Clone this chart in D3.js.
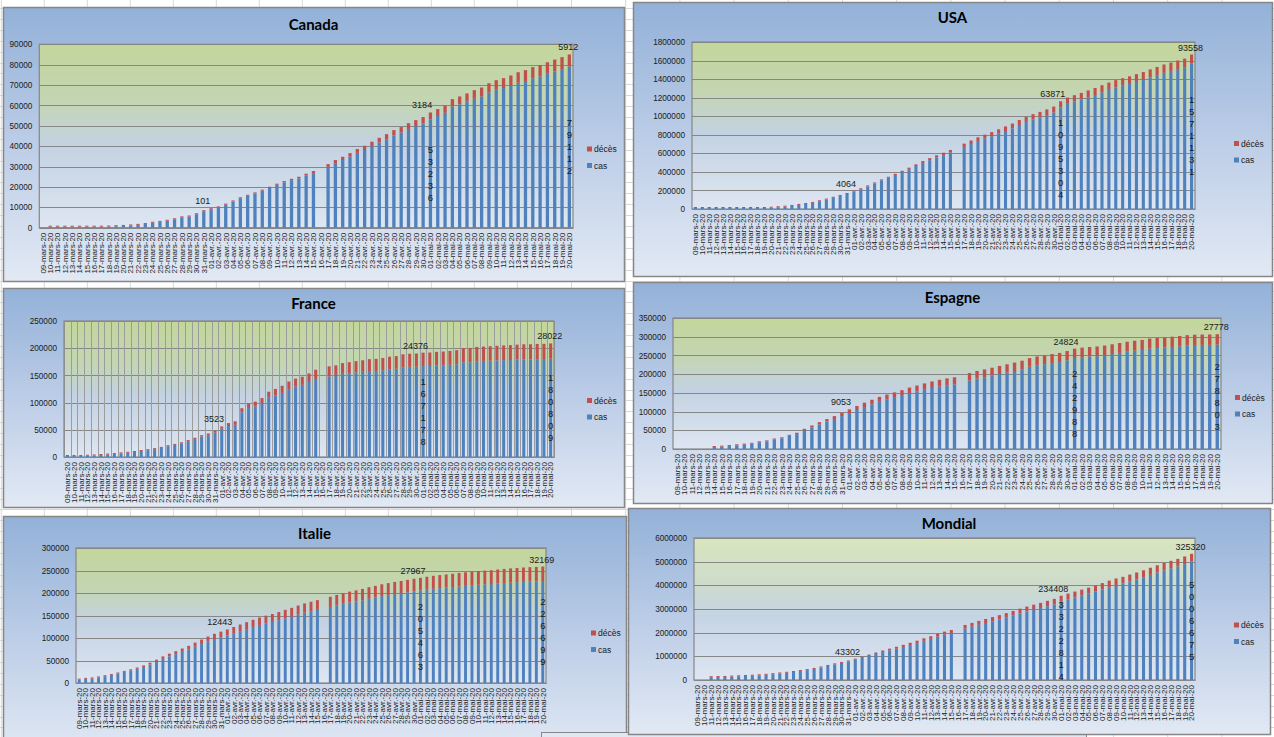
<!DOCTYPE html>
<html>
<head>
<meta charset="utf-8">
<script src="https://cdn.jsdelivr.net/npm/d3@7"></script>
<style>
  body { margin: 0; background: #fff; }
  svg text { font-family: "Liberation Sans", Arial, sans-serif; }
</style>
</head>
<body>
<svg id="sheet" width="1274" height="737"></svg>
<script>
// categories ------------------------------------------------------------>
var dates = [
  '09-mars-20', '10-mars-20', '11-mars-20', '12-mars-20', '13-mars-20', '14-mars-20', '15-mars-20', '16-mars-20',
  '17-mars-20', '18-mars-20', '19-mars-20', '20-mars-20', '21-mars-20', '22-mars-20', '23-mars-20', '24-mars-20',
  '25-mars-20', '26-mars-20', '27-mars-20', '28-mars-20', '29-mars-20', '30-mars-20', '31-mars-20',
  '01-avr.-20', '02-avr.-20', '03-avr.-20', '04-avr.-20', '05-avr.-20', '06-avr.-20', '07-avr.-20', '08-avr.-20',
  '09-avr.-20', '10-avr.-20', '11-avr.-20', '12-avr.-20', '13-avr.-20', '14-avr.-20', '15-avr.-20', '16-avr.-20',
  '17-avr.-20', '18-avr.-20', '19-avr.-20', '20-avr.-20', '21-avr.-20', '22-avr.-20', '23-avr.-20', '24-avr.-20',
  '25-avr.-20', '26-avr.-20', '27-avr.-20', '28-avr.-20', '29-avr.-20', '30-avr.-20',
  '01-mai-20', '02-mai-20', '03-mai-20', '04-mai-20', '05-mai-20', '06-mai-20', '07-mai-20', '08-mai-20',
  '09-mai-20', '10-mai-20', '11-mai-20', '12-mai-20', '13-mai-20', '14-mai-20', '15-mai-20', '16-mai-20',
  '17-mai-20', '18-mai-20', '19-mai-20', '20-mai-20'
];

// series (mars / avril / mai) ------------------------------------------->
var canadaCas = [
  null, 80, 95, 110, 150, 195, 230, 340, 450, 570, 730, 870, 1100, 1380, 1780, 2440, 2870, 3400, 4130, 5080, 5480, 6600, 8100,
  9090, 9960, 11320, 12880, 14440, 15660, 16830, 18190, 19600, 21040, 22250, 23290, 24220, 25600, 26790, null,
  29800, 31690, 33210, 34870, 36690, 38130, 40050, 41800, 43440, 45280, 46690, 48440, 49800, 51120,
  53236, 54810, 56390, 59420, 60550, 61860, 63270, 64390, 66330, 67710, 68530, 69650, 71130, 72000, 73330, 74240, 75520, 76720, 77860, 79112
];
var canadaDeces = [
  null, 1, 1, 1, 1, 1, 1, 4, 5, 8, 9, 12, 19, 21, 25, 26, 30, 38, 54, 61, 64, 80, 101,
  109, 139, 179, 218, 259, 339, 375, 407, 503, 557, 653, 714, 781, 904, 1010, null,
  1399, 1506, 1587, 1728, 1915, 2075, 2152, 2302, 2465, 2617, 2707, 2859, 2996, 3184,
  3310, 3391, 3606, 3682, 3854, 4043, 4232, 4408, 4569, 4693, 4871, 5049, 5169, 5304, 5472, 5562, 5679, 5782, 5842, 5912
];
var usaCas = [
  537, 605, 959, 1281, 1663, 2179, 2726, 3499, 4632, 6421, 7786, 13680, 19101, 25493, 33276, 43847, 53740, 65778, 83836, 101657, 121465, 140909, 161831,
  188172, 213242, 243622, 275367, 308650, 336802, 366317, 397121, 428654, 462780, 496535, 526396, 555313, 580619, 607670, null,
  667801, 699706, 732197, 758809, 784326, 811865, 840351, 869170, 905358, 938154, 965785, 988197, 1012582, 1039909,
  1095304, 1133069, 1158040, 1180375, 1204351, 1228603, 1256972, 1283929, 1309550, 1329260, 1347881, 1369376, 1390406, 1417774, 1442824, 1467820, 1486757, 1508308, 1528568, 1571131
];
var usaDeces = [
  22, 28, 36, 40, 47, 54, 63, 85, 108, 118, 200, 244, 307, 427, 552, 706, 942, 1209, 1581, 2026, 2467, 2978, 4064,
  5110, 6221, 7476, 8695, 9627, 10985, 12834, 14767, 16711, 18777, 20566, 22105, 23644, 26072, 28474, null,
  36773, 38664, 40661, 42094, 44444, 46622, 49954, 51949, 53755, 54881, 56259, 58355, 60967, 63871,
  65753, 67444, 68690, 71064, 73431, 75662, 77180, 78795, 79526, 80682, 82356, 84119, 85898, 87530, 88754, 89562, 90347, 91921, 92600, 93558
];
var franceCas = [
  1126, 1412, 1784, 2281, 2876, 3661, 4499, 5423, 6633, 7730, 9134, 10995, 12612, 14459, 16689, 19856, 22302, 25233, 29155, 32964, 37575, 40174, 44550,
  52128, 56989, 59105, 82165, 89953, 92839, 98010, 109069, 112950, 117749, 124869, 129654, 132591, 137875, 143303, null,
  147969, 149130, 152894, 154097, 155383, 156480, 158050, 158183, 159460, 161488, 162220, 165093, 165764, 165911,
  167178, 167346, 168396, 168693, 169462, 170551, 174191, 174224, 176079, 176658, 176970, 177423, 178060, 178225, 178994, 179569, 179630, 179927, 180051, 180809
];
var franceDeces = [
  25, 33, 48, 61, 79, 91, 127, 148, 175, 244, 372, 450, 562, 674, 860, 1100, 1331, 1696, 1995, 2314, 2606, 3024, 3523,
  4032, 5387, 6507, 7560, 8078, 8911, 10328, 10869, 12210, 13197, 13832, 14393, 14967, 15729, 17167, null,
  18681, 19323, 19718, 20265, 20796, 21340, 21856, 22245, 22614, 22856, 23293, 23660, 24087, 24376,
  24594, 24760, 24895, 25201, 25531, 25809, 25987, 26230, 26310, 26380, 26643, 26991, 27074, 27425, 27529, 27625, 27625, 27960, 28000, 28022
];
var espagneCas = [
  null, null, null, null, null, 5232, 6391, 7798, 9942, 11748, 13910, 17963, 20410, 25374, 28603, 35136, 39885, 49515, 57786, 65719, 73235, 80110, 87956,
  95923, 104118, 112065, 119199, 126168, 131646, 136675, 141942, 148220, 153222, 158273, 163027, 166831, 170099, 172541, null,
  182816, 188068, 191726, 195944, 200210, 204178, 208389, 213024, 219764, 223759, 226629, 229422, 232128, 236899,
  242988, 245567, 247122, 248301, 250561, 253682, 256855, 260117, 262783, 264663, 268143, 269520, 271095, 272646, 274367, 276505, 277719, 278188, 278188, 278803
];
var espagneDeces = [
  null, null, null, null, null, 195, 289, 342, 533, 623, 830, 1043, 1375, 1772, 2311, 2808, 3647, 4365, 5138, 5982, 6803, 7716, 9053,
  10003, 10935, 11744, 12418, 13055, 13798, 14555, 15238, 15843, 16353, 16972, 17489, 18056, 18579, 19130, null,
  20043, 20453, 20852, 21282, 21717, 22157, 22524, 22902, 23190, 23521, 23822, 24275, 24543, 24824,
  25100, 25264, 25428, 25613, 25857, 26070, 26299, 26478, 26621, 26744, 26920, 27104, 27321, 27459, 27563, 27650, 27709, 27709, 27778, 27778
];
var italieCas = [
  7375, 9172, 10149, 12462, 15113, 17660, 21157, 24747, 27980, 31506, 35713, 41035, 47021, 53578, 59138, 63927, 69176, 74386, 80589, 86498, 92472, 97689, 101739,
  105792, 110574, 115242, 119827, 124632, 128948, 132547, 135586, 139422, 143626, 147577, 152271, 156363, 159516, 162488, null,
  168941, 172434, 175925, 178972, 181228, 183957, 187327, 189973, 192994, 195351, 197675, 199414, 201505, 203591,
  205463, 207428, 209328, 210717, 211938, 213013, 214457, 215858, 217185, 218268, 219070, 219814, 221216, 222104, 223096, 223885, 224760, 225435, 225886, 226699
];
var italieDeces = [
  463, 631, 827, 1016, 1266, 1441, 1809, 2158, 2503, 2978, 3405, 4032, 4825, 5476, 6077, 6820, 7503, 8165, 9134, 10023, 10779, 11591, 12443,
  13155, 13915, 14681, 15362, 15887, 16523, 17127, 17669, 18279, 18849, 19468, 19899, 20465, 21067, 21645, null,
  22745, 23227, 23660, 24114, 24648, 25085, 25549, 25969, 26384, 26644, 26977, 27359, 27682, 27967,
  28236, 28710, 28884, 29079, 29315, 29684, 29958, 30201, 30395, 30560, 30739, 30911, 31106, 31368, 31610, 31763, 31908, 32007, 32080, 32169
];
var mondialCas = [
  null, null, 118985, 126136, 128365, 145226, 156099, 169431, 182406, 198103, 218445, 246216, 276110, 305252, 336953, 378235, 418045, 467653, 529591, 593291, 660706, 720117, 782365,
  857487, 932605, 1013157, 1095917, 1176060, 1249754, 1321481, 1396476, 1475686, 1558600, 1653052, 1735650, 1834993, 1917319, 1976192, null,
  2172108, 2252650, 2331870, 2408123, 2481136, 2556345, 2635123, 2718800, 2810305, 2896551, 2971752, 3041420, 3116398, 3193886,
  3322814, 3407746, 3489053, 3566398, 3646040, 3735344, 3825478, 3923096, 4009536, 4075591, 4167446, 4251754, 4337445, 4441958, 4542348, 4635542, 4721180, 4798620, 4897492, 5006675
];
var mondialDeces = [
  null, null, 4615, 4720, 5404, 5819, 6440, 7126, 7905, 8733, 9867, 11299, 12973, 14651, 16505, 18625, 21181, 23970, 27198, 30652, 34043, 37820, 43302,
  47208, 53190, 59140, 64718, 69458, 74654, 82074, 88450, 95694, 102525, 108502, 114091, 119481, 126611, 134176, null,
  153822, 159509, 165069, 170436, 177641, 184249, 190858, 197246, 203272, 206995, 211167, 217769, 228029, 234408,
  238650, 243401, 248146, 251537, 257239, 263855, 269567, 275976, 279319, 282709, 286330, 291942, 297220, 302418, 307666, 311781, 315185, 318789, 323285, 325320
];

// which points carry a data label
var decesLabelIdx = [22, 52, 72];
var casLabelIdx = [53, 72];

// layout of each chart object on the sheet
var charts = [
  {title: 'Canada', cas: canadaCas, deces: canadaDeces, max: 90000, step: 10000,
   box: [3, 7, 621, 274], plot: [39.3, 44.3, 573, 227.7], titleY: 30, legend: [587, 146.5]},
  {title: 'France', cas: franceCas, deces: franceDeces, max: 250000, step: 50000, vGrid: true,
   box: [3, 288, 621, 219], plot: [64, 321, 554, 457], titleY: 309, legend: [587, 398]},
  {title: 'USA', cas: usaCas, deces: usaDeces, max: 1800000, step: 200000,
   box: [633, 2, 639, 274], plot: [692, 42, 1195, 209], titleY: 23, legend: [1234, 141]},
  {title: 'Espagne', cas: espagneCas, deces: espagneDeces, max: 350000, step: 50000,
   box: [633, 282, 639, 221], plot: [673, 318, 1221, 449], titleY: 303, legend: [1235, 395]},
  {title: 'Italie', cas: italieCas, deces: italieDeces, max: 300000, step: 50000,
   box: [3, 516, 623, 240], plot: [76, 548, 546, 683], titleY: 539, legend: [591, 630.5]},
  {title: 'Mondial', cas: mondialCas, deces: mondialDeces, max: 6000000, step: 1000000, light: true,
   box: [628, 508, 642, 226], plot: [694, 538, 1195, 680], titleY: 529, legend: [1234, 622.5]}
];

var blue = '#4f81bd';
var red = '#c0504d';

var svg = d3.select('#sheet');
var defs = svg.append('defs');

function vGradient(id, stops) {
  var lg = defs.append('linearGradient').attr('id', id).attr('x1', 0).attr('y1', 0).attr('x2', 0).attr('y2', 1);
  stops.forEach(s => {
    lg.append('stop').attr('offset', s[0]).attr('stop-color', s[1]);
  });
}
vGradient('chartBg', [[0, '#93b1d8'], [0.5, '#bccde7'], [1, '#e2e9f4']]);
vGradient('plotBg', [[0, '#c3d69b'], [0.3, '#c4d5b2'], [0.55, '#c3d2e2'], [1, '#dee6f2']]);
vGradient('plotBgLight', [[0, '#d8e5bd'], [0.3, '#cfdcca'], [0.55, '#c5d4e5'], [1, '#dee6f2']]);

// excel sheet behind the charts
svg.append('rect').attr('width', 1274).attr('height', 737).attr('fill', '#fff');
var colLines = d3.range(1.3, 520, 43).concat(d3.range(571.5, 1274, 54.2));
svg.selectAll('line.col').data(colLines).join('line').attr('class', 'col')
  .attr('x1', d => d).attr('x2', d => d).attr('y1', 0).attr('y2', 737)
  .attr('stroke', '#d6d9dc').attr('stroke-width', 1);
svg.selectAll('line.row').data(d3.range(8, 737, 10.9)).join('line').attr('class', 'row')
  .attr('x1', 0).attr('x2', 1274).attr('y1', d => Math.round(d) + 0.5).attr('y2', d => Math.round(d) + 0.5)
  .attr('stroke', '#d6d9dc').attr('stroke-width', 1);

function drawChart(c) {
  var g = svg.append('g').attr('class', 'chart');
  var l = c.plot[0], t = c.plot[1], r = c.plot[2], b = c.plot[3];

  g.append('rect')
    .attr('x', c.box[0] + 0.5).attr('y', c.box[1] + 0.5)
    .attr('width', c.box[2]).attr('height', c.box[3])
    .attr('fill', 'url(#chartBg)').attr('stroke', '#868686').attr('stroke-width', 1.5);

  g.append('text').attr('x', c.box[0] + c.box[2] / 2).attr('y', c.titleY)
    .attr('text-anchor', 'middle')
    .style('font-family', 'Lato, "Open Sans", sans-serif').style('font-weight', 'bold').style('font-size', '15px')
    .attr('fill', '#000').text(c.title);

  var x = d3.scaleBand().domain(d3.range(dates.length)).range([l, r]).paddingInner(0.55).paddingOuter(0.275);
  var y = d3.scaleLinear().domain([0, c.max]).range([b, t]);
  var ticks = d3.range(0, c.max + 1, c.step);

  g.append('rect').attr('x', l).attr('y', t).attr('width', r - l).attr('height', b - t)
    .attr('fill', c.light ? 'url(#plotBgLight)' : 'url(#plotBg)');

  g.append('g').selectAll('line').data(ticks).join('line')
    .attr('x1', l).attr('x2', r)
    .attr('y1', d => Math.round(y(d)) + 0.5).attr('y2', d => Math.round(y(d)) + 0.5)
    .attr('stroke', '#878787').attr('stroke-width', 1.2);

  if (c.vGrid) {
    g.append('g').selectAll('line').data(d3.range(dates.length + 1)).join('line')
      .attr('x1', i => Math.round(l + x.step() * i) + 0.5).attr('x2', i => Math.round(l + x.step() * i) + 0.5)
      .attr('y1', t).attr('y2', b)
      .attr('stroke', '#9c9c9c').attr('stroke-width', 1);
  }

  g.append('rect').attr('x', l).attr('y', t).attr('width', r - l).attr('height', b - t)
    .attr('fill', 'none').attr('stroke', '#878787').attr('stroke-width', 1.2);

  // stacked columns: cas (blue) then deces (red)
  var rows = dates.map((d, i) => ({i: i, cas: c.cas[i], deces: c.deces[i]})).filter(d => d.cas != null);
  rows.forEach(d => {
    var hCas = Math.max(1, y(0) - y(d.cas));
    var hDec = Math.max(1, y(d.cas) - y(d.cas + d.deces));
    d.casTop = y(0) - hCas;
    d.decTop = d.casTop - hDec;
    d.hCas = hCas;
    d.hDec = hDec;
  });
  var bars = g.append('g');
  bars.selectAll('rect.cas').data(rows).join('rect').attr('class', 'cas')
    .attr('x', d => x(d.i)).attr('width', x.bandwidth())
    .attr('y', d => d.casTop).attr('height', d => d.hCas).attr('fill', blue);
  bars.selectAll('rect.deces').data(rows).join('rect').attr('class', 'deces')
    .attr('x', d => x(d.i)).attr('width', x.bandwidth())
    .attr('y', d => d.decTop).attr('height', d => d.hDec).attr('fill', red);

  // y axis
  var yAxis = g.append('g').attr('transform', `translate(${l},0)`)
    .call(d3.axisLeft(y).tickValues(ticks).tickSize(0).tickPadding(7).tickFormat(d3.format('d')));
  yAxis.select('.domain').remove();
  yAxis.selectAll('text').style('font-size', '8.2px').attr('fill', '#1a1a1a');

  // x axis, labels turned
  var xAxis = g.append('g').attr('transform', `translate(0,${b})`)
    .call(d3.axisBottom(x).tickSize(0).tickFormat(i => dates[i]));
  xAxis.select('.domain').attr('stroke', '#878787');
  xAxis.selectAll('text')
    .attr('transform', 'rotate(-90)').attr('text-anchor', 'end')
    .attr('x', -5).attr('y', 0).attr('dy', '0.35em')
    .style('font-size', '8px').attr('fill', '#1a1a1a');

  // data labels
  var byIdx = {};
  rows.forEach(d => { byIdx[d.i] = d; });
  decesLabelIdx.forEach(i => {
    var d = byIdx[i];
    // keep the label clear of the next (taller) column
    var top = byIdx[i + 1] ? Math.min(d.decTop, byIdx[i + 1].decTop) : d.decTop;
    g.append('text').attr('x', x(i) + x.bandwidth() / 2 - 1).attr('y', top - 4)
      .attr('text-anchor', 'middle').style('font-size', '9px').attr('fill', '#1a1a1a')
      .text(d.deces);
  });
  casLabelIdx.forEach(i => {
    var d = byIdx[i];
    var digits = String(d.cas).split('');
    var mid = (y(0) + d.casTop) / 2;
    var start = mid - (digits.length - 1) * 6;
    var lab = g.append('text').attr('text-anchor', 'middle').style('font-size', '9.5px').attr('fill', '#1a1a1a');
    digits.forEach((ch, k) => {
      lab.append('tspan').attr('x', x(i) + x.bandwidth() / 2).attr('y', start + k * 12).attr('dy', '0.35em').text(ch);
    });
  });

  // legend
  var lg = g.append('g').attr('transform', `translate(${c.legend[0]},${c.legend[1]})`);
  [['décès', red], ['cas', blue]].forEach((e, k) => {
    lg.append('rect').attr('x', 0).attr('y', k * 16.5).attr('width', 5).attr('height', 5).attr('fill', e[1]);
    lg.append('text').attr('x', 7).attr('y', k * 16.5 + 5.5).style('font-size', '8.5px').attr('fill', '#1a1a1a').text(e[0]);
  });
}

charts.slice(0, 5).forEach(c => drawChart(c));

// edge of another chart object sitting under the Mondial one
svg.append('rect').attr('x', 541.5).attr('y', 732.5).attr('width', 545).attr('height', 12)
  .attr('fill', '#e0e8f3').attr('stroke', '#868686');

drawChart(charts[5]);
</script>
</body>
</html>
